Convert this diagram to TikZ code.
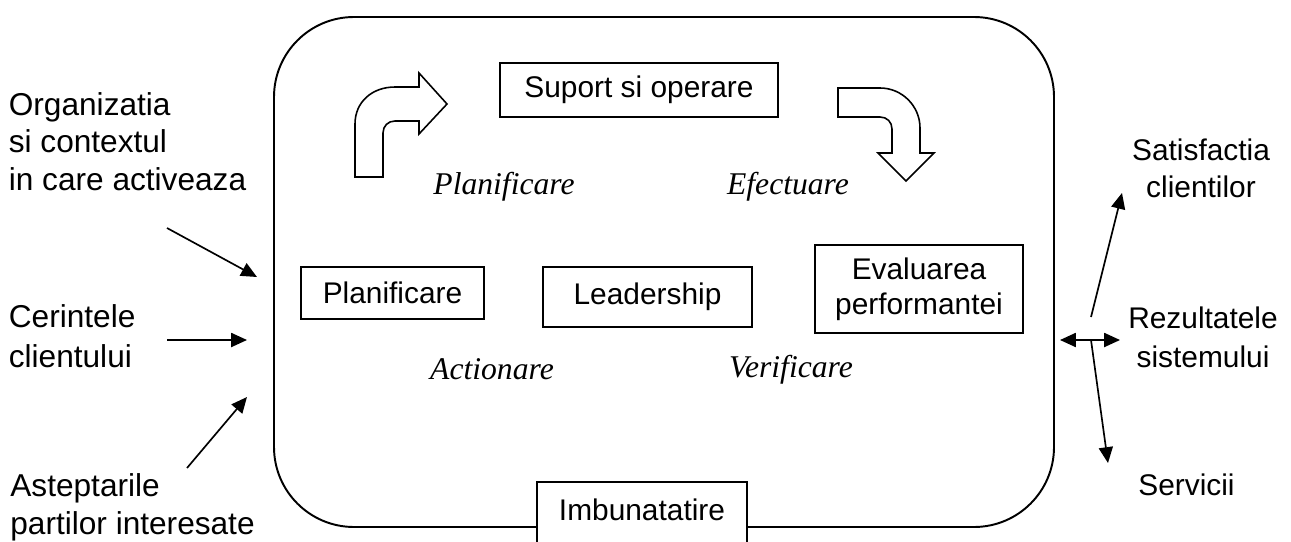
\documentclass[tikz,border=0pt]{standalone}
\usepackage{fontspec}
\setmainfont{Liberation Sans}
\newfontfamily\serifit{Liberation Serif}
\usetikzlibrary{arrows.meta}

\begin{document}
\begin{tikzpicture}[x=0.02cm,y=-0.02cm,
	txt/.style={inner sep=0pt,font=\fontsize{18}{21.3}\selectfont},
	lbl/.style={inner sep=0pt,font=\serifit\itshape\fontsize{18}{20}\selectfont},
	bloc/.style={draw,line width=1.1pt,fill=white,inner sep=0pt,align=center,font=\fontsize{17}{19.8}\selectfont},
	sag/.style={line width=0.95pt,-{Triangle[length=9pt,width=8pt]}},
	cot/.style={line width=0.9pt,line join=miter}]
	\useasboundingbox (0,0) rectangle (1291,541);

	% cadrul central
	\draw[line width=1.1pt,rounded corners=1.6cm] (274,17) rectangle (1054,527);

	\node[bloc,minimum width=5.56cm,minimum height=1.08cm] (sup) at (639,90) {Suport si operare};
	\node[bloc,minimum width=3.66cm,minimum height=1.04cm] (plan) at (392.5,293) {Planificare};
	\node[bloc,minimum width=4.18cm,minimum height=1.2cm] (lead) at (647.5,297) {Leadership};
	\node[bloc,minimum width=4.16cm,minimum height=1.76cm] (eval) at (919,289) {Evaluarea\\performantei};
	\node[bloc,anchor=north,minimum width=4.2cm,minimum height=1.3cm,text depth=6pt] (imb) at (642,481) {Imbunatatire};

	\node[lbl] (lplan) at (504,187) {Planificare};
	\node[lbl] (lefec) at (788,187) {Efectuare};
	\node[lbl] (lact) at (492,369) {Actionare};
	\node[lbl] (lver) at (791,370) {Verificare};

	% sagetile curbe
	\draw[cot] (355,177) -- (355,124) .. controls (355,102) and (372,87) .. (395,87)
		-- (419,87) -- (419,73) -- (447,104) -- (419,134) -- (419,121) -- (395,121)
		.. controls (388,121) and (383,126) .. (383,133) -- (383,177) -- cycle;
	\draw[cot] (838,88) -- (880,88) .. controls (902,88) and (920,106) .. (920,128)
		-- (920,153) -- (934,153) -- (906,181) -- (878,153) -- (892,153) -- (892,129)
		.. controls (892,122) and (887,117) .. (880,117) -- (838,117) -- cycle;

	% intrari
	\node[txt,align=left,anchor=base west] (org) at (8.5,190) {Organizatia\\si contextul\\in care activeaza};
	\node[txt,align=left,anchor=base west,font=\fontsize{18}{22.7}\selectfont] (cer) at (8.5,367) {Cerintele\\clientului};
	\node[txt,align=left,anchor=base west] (ast) at (10,534) {Asteptarile\\partilor interesate};

	\coordinate (a1) at (167,228);
	\coordinate (b1) at (257,277);
	\coordinate (a2) at (167,340);
	\coordinate (b2) at (247,340);
	\coordinate (a3) at (187,468);
	\coordinate (b3) at (247,397);
	\draw[sag] (a1) -- (b1);
	\draw[sag] (a2) -- (b2);
	\draw[sag] (a3) -- (b3);

	% iesiri
	\node[txt,align=center,anchor=base,font=\fontsize{17}{21}\selectfont] (sat) at (1201,197) {Satisfactia\\clientilor};
	\node[txt,align=center,anchor=base,font=\fontsize{17}{22}\selectfont] (rez) at (1203,367) {Rezultatele\\sistemului};
	\node[txt,anchor=base west,font=\fontsize{17}{21}\selectfont] (serv) at (1138,495) {Servicii};

	\coordinate (c1) at (1060,340);
	\coordinate (c2) at (1120,340);
	\coordinate (c3) at (1091,317);
	\coordinate (d3) at (1122,193);
	\coordinate (c4) at (1091,340);
	\coordinate (d4) at (1108,463);
	\draw[sag,{Triangle[length=9pt,width=8pt]}-{Triangle[length=9pt,width=8pt]}] (c1) -- (c2);
	\draw[sag] (c3) -- (d3);
	\draw[sag] (c4) -- (d4);
\end{tikzpicture}
\end{document}
